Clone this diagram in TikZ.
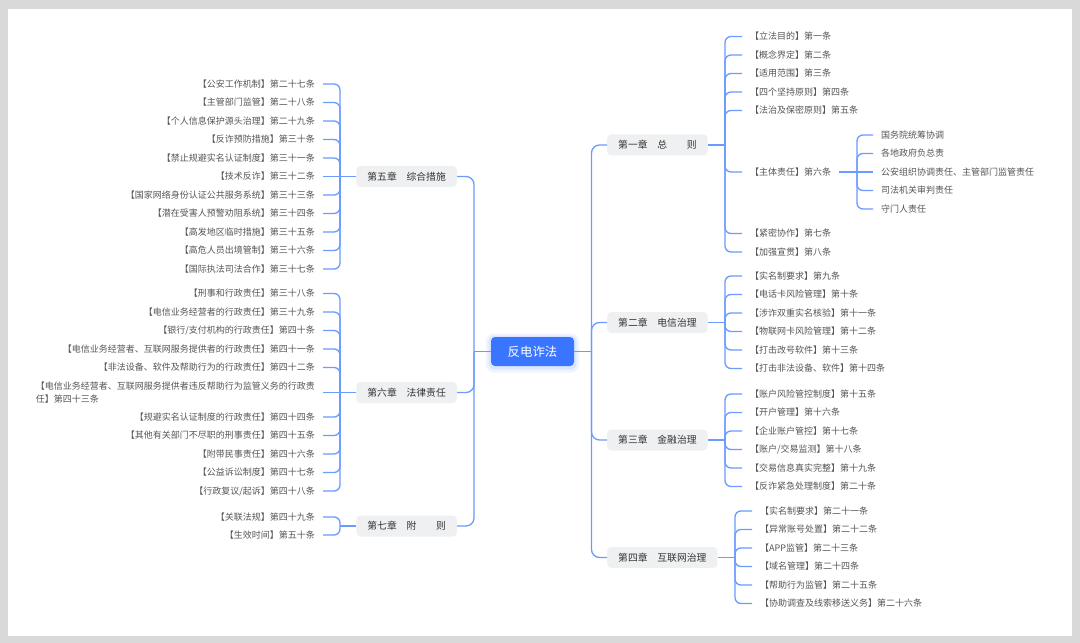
\documentclass[tikz,border=0pt]{standalone}
\usepackage{fontspec}
\setmainfont{Noto Sans CJK SC}
\definecolor{bggray}{HTML}{D9D9D9}
\definecolor{lineblue}{HTML}{6B9BFF}
\definecolor{rootblue}{HTML}{3A75FF}
\definecolor{chapfill}{HTML}{EFF0F2}
\definecolor{chaptext}{HTML}{333333}
\definecolor{leaftext}{HTML}{555555}
\newcommand\mmbranch[4]{\ifdim #2pt=#4pt\relax \draw[conn] (#1,#2) -- (#3);\else \draw[conn,rounded corners=6bp] (#1,#2) -- (#1,#4) -- (#3);\fi}
\begin{document}
\begin{tikzpicture}[x=1bp, y=-1bp,
  conn/.style={draw=lineblue, line width=1.3bp},
  rootbox/.style={fill=rootblue, text=white, rounded corners=4bp, minimum width=83bp, minimum height=29bp, inner sep=0pt, font=\fontsize{12.4bp}{14bp}\selectfont},
  chap/.style={fill=chapfill, text=chaptext, rounded corners=4bp, inner xsep=11bp, inner ysep=0pt, minimum height=21bp, font=\fontsize{9.8bp}{12bp}\selectfont},
  leaf/.style={text=leaftext, inner xsep=8bp, inner ysep=1bp, align=left, font=\fontsize{9bp}{13bp}\selectfont},
  lleaf/.style={leaf, anchor=east},
  rleaf/.style={leaf, anchor=west}]
\useasboundingbox (0,0) rectangle (1080,643);
\fill[bggray] (0,0) rectangle (1080,643);
\fill[white] (8,9) rectangle (1072,636);

% root with glow
\fill[rootblue, opacity=0.08, rounded corners=8bp] (486,333.5) rectangle (579,372.5);
\fill[rootblue, opacity=0.10, rounded corners=6bp] (488.5,335.5) rectangle (576.5,369.5);
\node[rootbox] (root) at (532.5,351.5) {反电诈法};

% chapters
\node[chap, anchor=west] (ch1) at (607,145) {第一章　总　　则};
\node[chap, anchor=west] (ch2) at (607,322.5) {第二章　电信治理};
\node[chap, anchor=west] (ch3) at (607,440) {第三章　金融治理};
\node[chap, anchor=west] (ch4) at (607,557.5) {第四章　互联网治理};
\node[chap, anchor=east] (ch5) at (457,176.5) {第五章　综合措施};
\node[chap, anchor=east] (ch6) at (457,392.5) {第六章　法律责任};
\node[chap, anchor=east] (ch7) at (457,526) {第七章　附　　则};

% trunks
\draw[conn] (root.east) -- (591.5,351.5);
\draw[conn, rounded corners=8bp] (591.5,351.5) -- (591.5,145) -- (ch1.west);
\draw[conn, rounded corners=8bp] (591.5,351.5) -- (591.5,322.5) -- (ch2.west);
\draw[conn, rounded corners=8bp] (591.5,351.5) -- (591.5,440) -- (ch3.west);
\draw[conn, rounded corners=8bp] (591.5,351.5) -- (591.5,557.5) -- (ch4.west);
\draw[conn] (root.west) -- (474,351.5);
\draw[conn, rounded corners=8bp] (474,351.5) -- (474,176.5) -- (ch5.east);
\draw[conn, rounded corners=8bp] (474,351.5) -- (474,392.5) -- (ch6.east);
\draw[conn, rounded corners=8bp] (474,351.5) -- (474,526) -- (ch7.east);

% chapter 1
\draw[conn] (ch1.east) -- (725,145);
\foreach \y/\t [count=\i] in {36.5/{【立法目的】第一条}, 55/{【概念界定】第二条}, 73.5/{【适用范围】第三条}, 92/{【四个坚持原则】第四条}, 110.5/{【法治及保密原则】第五条}, 172/{【主体责任】第六条}, 233.5/{【紧密协作】第七条}, 252/{【加强宣贯】第八条}}{
  \node[rleaf] (c1-\i) at (742,\y) {\t};
  \mmbranch{725}{145}{c1-\i.west}{\y}
}
\draw[conn] (c1-6.east) -- (857,172);
\foreach \y/\t [count=\i] in {135/{国务院统筹协调}, 153.5/{各地政府负总责}, 172/{公安组织协调责任、主管部门监管责任}, 190.5/{司法机关审判责任}, 209/{守门人责任}}{
  \node[rleaf] (s-\i) at (873,\y) {\t};
  \mmbranch{857}{172}{s-\i.west}{\y}
}

% chapter 2
\draw[conn] (ch2.east) -- (725,322.5);
\foreach \y/\t [count=\i] in {276/{【实名制要求】第九条}, 294.5/{【电话卡风险管理】第十条}, 313/{【涉诈双重实名核验】第十一条}, 331.5/{【物联网卡风险管理】第十二条}, 350/{【打击改号软件】第十三条}, 368.5/{【打击非法设备、软件】第十四条}}{
  \node[rleaf] (c2-\i) at (742,\y) {\t};
  \mmbranch{725}{322.5}{c2-\i.west}{\y}
}

% chapter 3
\draw[conn] (ch3.east) -- (725,440);
\foreach \y/\t [count=\i] in {394/{【账户风险管控制度】第十五条}, 412.5/{【开户管理】第十六条}, 431/{【企业账户管控】第十七条}, 449.5/{【账户/交易监测】第十八条}, 468/{【交易信息真实完整】第十九条}, 486.5/{【反诈紧急处理制度】第二十条}}{
  \node[rleaf] (c3-\i) at (742,\y) {\t};
  \mmbranch{725}{440}{c3-\i.west}{\y}
}

% chapter 4
\draw[conn] (ch4.east) -- (735,557.5);
\foreach \y/\t [count=\i] in {511/{【实名制要求】第二十一条}, 529.5/{【异常账号处置】第二十二条}, 548/{【APP监管】第二十三条}, 566.5/{【域名管理】第二十四条}, 585/{【帮助行为监管】第二十五条}, 603.5/{【协助调查及线索移送义务】第二十六条}}{
  \node[rleaf] (c4-\i) at (752,\y) {\t};
  \mmbranch{735}{557.5}{c4-\i.west}{\y}
}

% chapter 5
\draw[conn] (ch5.west) -- (340,176.5);
\foreach \y/\t [count=\i] in {84/{【公安工作机制】第二十七条}, 102.5/{【主管部门监管】第二十八条}, 121/{【个人信息保护源头治理】第二十九条}, 139.5/{【反诈预防措施】第三十条}, 158/{【禁止规避实名认证制度】第三十一条}, 176.5/{【技术反诈】第三十二条}, 195/{【国家网络身份认证公共服务系统】第三十三条}, 213.5/{【潜在受害人预警劝阻系统】第三十四条}, 232/{【高发地区临时措施】第三十五条}, 250.5/{【高危人员出境管制】第三十六条}, 269/{【国际执法司法合作】第三十七条}}{
  \node[lleaf] (c5-\i) at (323,\y) {\t};
  \mmbranch{340}{176.5}{c5-\i.east}{\y}
}

% chapter 6
\draw[conn] (ch6.west) -- (340,392.5);
\foreach \y/\t [count=\i] in {293.5/{【刑事和行政责任】第三十八条}, 312/{【电信业务经营者的行政责任】第三十九条}, 330.5/{【银行/支付机构的行政责任】第四十条}, 349/{【电信业务经营者、互联网服务提供者的行政责任】第四十一条}, 367.5/{【非法设备、软件及帮助行为的行政责任】第四十二条}, 392.5/{【电信业务经营者、互联网服务提供者违反帮助行为监管义务的行政责\\任】第四十三条}, 417/{【规避实名认证制度的行政责任】第四十四条}, 435.5/{【其他有关部门不尽职的刑事责任】第四十五条}, 454/{【附带民事责任】第四十六条}, 472.5/{【公益诉讼制度】第四十七条}, 491/{【行政复议/起诉】第四十八条}}{
  \node[lleaf] (c6-\i) at (323,\y) {\t};
  \mmbranch{340}{392.5}{c6-\i.east}{\y}
}

% chapter 7
\draw[conn] (ch7.west) -- (340,526);
\foreach \y/\t [count=\i] in {517/{【关联法规】第四十九条}, 535/{【生效时间】第五十条}}{
  \node[lleaf] (c7-\i) at (323,\y) {\t};
  \mmbranch{340}{526}{c7-\i.east}{\y}
}
\end{tikzpicture}
\end{document}
